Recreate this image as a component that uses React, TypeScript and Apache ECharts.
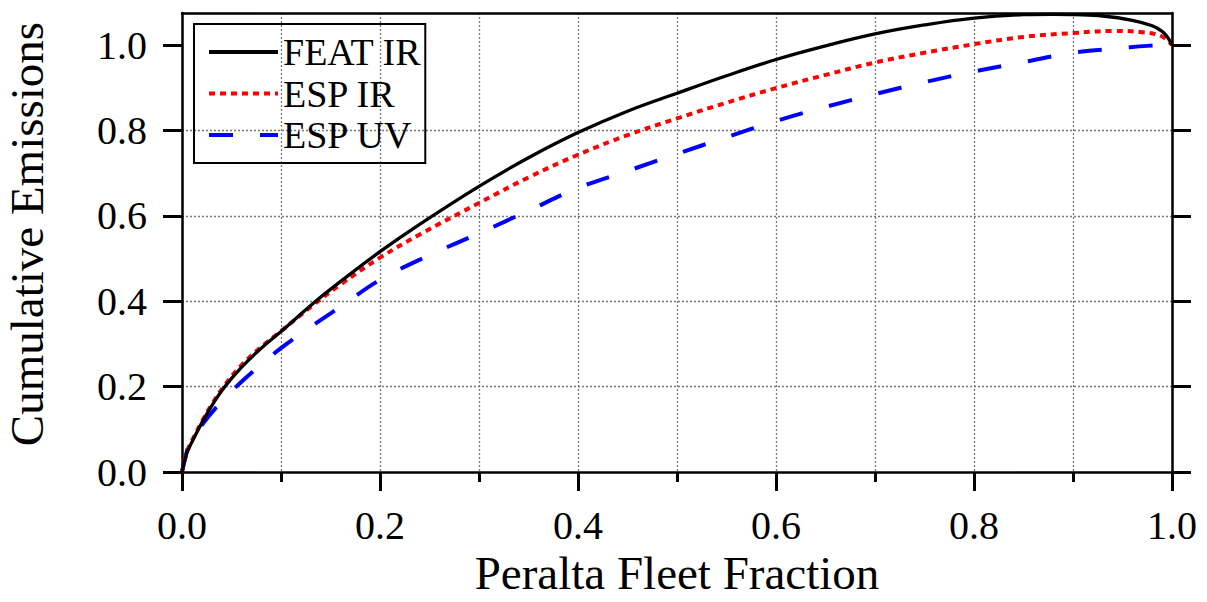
import React, { useEffect, useRef } from "react";
import * as echarts from "echarts";

const seriesNames = ["FEAT IR", "ESP IR", "ESP UV"];

const featX = [0, 0.005, 0.01, 0.02, 0.03, 0.0434, 0.06, 0.08, 0.1, 0.133, 0.16, 0.2, 0.24, 0.3, 0.35, 0.4, 0.45, 0.5, 0.55, 0.6, 0.65, 0.7, 0.75, 0.8, 0.85, 0.88, 0.9, 0.93, 0.96, 0.98, 0.99, 0.995, 1.0];
const featY = [0, 0.045, 0.07, 0.115, 0.155, 0.2, 0.245, 0.29, 0.329, 0.396, 0.446, 0.516, 0.58, 0.669, 0.736, 0.795, 0.845, 0.887, 0.928, 0.966, 0.998, 1.026, 1.047, 1.063, 1.071, 1.072, 1.071, 1.068, 1.058, 1.045, 1.032, 1.02, 1.0];

const espIrX = [0, 0.005, 0.01, 0.02, 0.03, 0.043, 0.06, 0.08, 0.1, 0.133, 0.16, 0.2, 0.24, 0.3, 0.35, 0.4, 0.45, 0.5, 0.55, 0.6, 0.65, 0.7, 0.75, 0.8, 0.85, 0.9, 0.94, 0.97, 0.99, 1.0];
const espIrY = [0, 0.047, 0.073, 0.118, 0.158, 0.203, 0.25, 0.293, 0.33, 0.392, 0.439, 0.502, 0.556, 0.63, 0.69, 0.743, 0.789, 0.828, 0.865, 0.899, 0.93, 0.959, 0.982, 1.002, 1.019, 1.028, 1.033, 1.03, 1.02, 1.0];

const espUvX = [0, 0.004, 0.008, 0.02, 0.038, 0.059, 0.08, 0.1, 0.13, 0.16, 0.2, 0.25, 0.3, 0.35, 0.4, 0.45, 0.5, 0.55, 0.6, 0.65, 0.7, 0.75, 0.8, 0.85, 0.9, 0.95, 0.975, 1.0];
const espUvY = [0, 0.04, 0.068, 0.11, 0.16, 0.209, 0.252, 0.29, 0.34, 0.387, 0.45, 0.508, 0.559, 0.612, 0.665, 0.705, 0.745, 0.784, 0.822, 0.855, 0.885, 0.913, 0.938, 0.96, 0.982, 0.993, 0.998, 1.0];

const yTickValues = [0, 0.2, 0.4, 0.6, 0.8, 1.0];

const xAxisTitle = "Peralta Fleet Fraction";
const yAxisTitle = "Cumulative Emissions";

const FONT = "'Liberation Serif', 'Times New Roman', serif";

function zip(xs: number[], ys: number[]) {
  return xs.map((x, i) => [x, ys[i]]);
}

export default function App() {
  const ref = useRef<HTMLDivElement>(null);
  useEffect(() => {
    if (!ref.current) return;
    const chart = echarts.init(ref.current, null, { renderer: "svg" });
    const gridLine = { show: true, lineStyle: { color: "#777", width: 1.3, type: [2, 2] } };
    const option: any = {
      animation: false,
      backgroundColor: "#fff",
      grid: { left: 182, top: 13, right: 35, bottom: 130, containLabel: false, outerBoundsMode: "none" },
      legend: {
        orient: "vertical",
        left: 194,
        top: 24,
        data: seriesNames,
        borderColor: "#000",
        borderWidth: 2,
        borderRadius: 0,
        padding: [9, 4, 9, 13],
        itemWidth: 69,
        itemHeight: 38,
        itemGap: 3.5,
        itemStyle: { opacity: 0 },
        lineStyle: { width: 4 },
        textStyle: { fontFamily: FONT, fontSize: 38, color: "#000" },
      },
      xAxis: [
        {
          type: "value",
          min: 0,
          max: 1,
          interval: 0.2,
          position: "bottom",
          name: xAxisTitle,
          nameLocation: "middle",
          nameGap: 76,
          nameTextStyle: { fontFamily: FONT, fontSize: 47, color: "#000" },
          axisLine: { show: true, onZero: false, lineStyle: { color: "#000", width: 2.5 } },
          axisTick: { show: true, inside: false, length: 19, lineStyle: { color: "#000", width: 3 } },
          minorTick: { show: true, splitNumber: 2, length: 10, lineStyle: { color: "#000", width: 3 } },
          axisLabel: {
            fontFamily: FONT,
            fontSize: 40,
            color: "#000",
            margin: 33,
            formatter: (v: number) => v.toFixed(1),
          },
          splitLine: gridLine,
          minorSplitLine: gridLine,
        },
        {
          type: "value",
          min: 0,
          max: 1,
          position: "top",
          axisLine: { show: true, onZero: false, lineStyle: { color: "#000", width: 2.5 } },
          axisTick: { show: false },
          axisLabel: { show: false },
          splitLine: { show: false },
        },
      ],
      yAxis: [
        {
          type: "value",
          min: 0,
          max: 1.075,
          interval: 0.2,
          position: "left",
          name: yAxisTitle,
          nameLocation: "middle",
          nameGap: 132,
          nameTextStyle: { fontFamily: FONT, fontSize: 47, color: "#000", padding: [0, 0, 0, 17] },
          axisLine: { show: true, onZero: false, lineStyle: { color: "#000", width: 2.5 } },
          axisTick: { show: true, length: 19, customValues: yTickValues, lineStyle: { color: "#000", width: 3 } },
          axisLabel: {
            fontFamily: FONT,
            fontSize: 40,
            color: "#000",
            margin: 35,
            customValues: yTickValues,
            formatter: (v: number) => v.toFixed(1),
          },
          splitLine: { ...gridLine, showMaxLine: false, showMinLine: false },
        },
        {
          type: "value",
          min: 0,
          max: 1.075,
          interval: 0.2,
          position: "right",
          axisLine: { show: true, onZero: false, lineStyle: { color: "#000", width: 2.5 } },
          axisTick: { show: true, length: 19, customValues: yTickValues, lineStyle: { color: "#000", width: 3 } },
          axisLabel: { show: false },
          splitLine: { show: false },
        },
      ],
      series: [
        {
          name: seriesNames[0],
          type: "line",
          data: zip(featX, featY),
          symbol: "none",
          smooth: 0.4,
          lineStyle: { color: "#000", width: 3.3, type: "solid" },
          itemStyle: { color: "#000" },
          z: 4,
        },
        {
          name: seriesNames[1],
          type: "line",
          data: zip(espIrX, espIrY),
          symbol: "none",
          smooth: 0.4,
          lineStyle: { color: "#ff0000", width: 4, type: [6, 5] },
          itemStyle: { color: "#ff0000" },
          z: 3,
        },
        {
          name: seriesNames[2],
          type: "line",
          data: zip(espUvX, espUvY),
          symbol: "none",
          smooth: 0.4,
          lineStyle: { color: "#0000ff", width: 4, type: [24, 27] },
          itemStyle: { color: "#0000ff" },
          z: 2,
        },
      ],
    };
    chart.setOption(option);
    return () => chart.dispose();
  }, []);
  return (
    <div
      ref={ref}
      style={{ position: "absolute", left: 0, top: 0, width: 1207, height: 602, background: "#fff" }}
    />
  );
}
